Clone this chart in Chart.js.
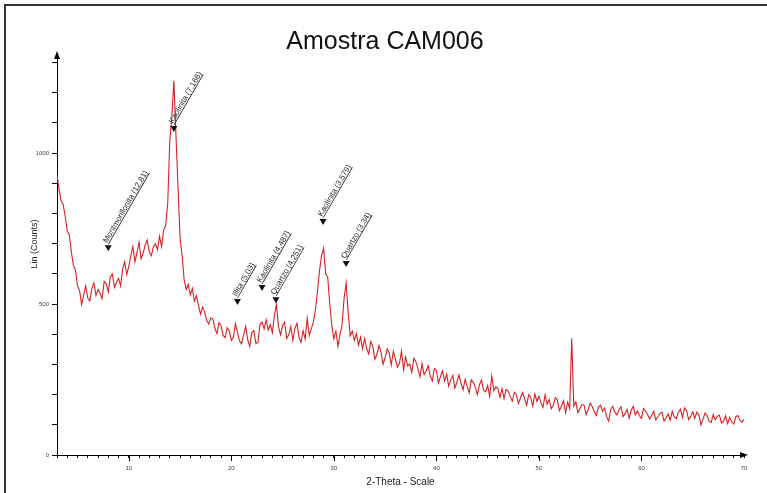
<!DOCTYPE html>
<html>
<head>
<meta charset="utf-8">
<script src="https://cdn.jsdelivr.net/npm/chart.js@4.4.1/dist/chart.umd.min.js"></script>
<style>
  html, body { margin: 0; padding: 0; background: #fff; }
  canvas { display: block; }
</style>
</head>
<body>
<canvas id="xrd-Chart" width="767" height="493"></canvas>
<script>
// scan: 2-theta from 3 to 70 deg, step 0.2 deg
const startAngle = 3;
const angleStep = 0.2;

// Lin (Counts), one row = 2 degrees
const counts = [
  928, 880, 842, 830, 790, 742, 730, 672, 628, 612,
  560, 545, 498, 530, 560, 520, 510, 552, 570, 528,
  548, 535, 518, 575, 568, 540, 590, 600, 555, 572,
  585, 560, 615, 640, 598, 625, 660, 690, 640, 670,
  705, 650, 668, 695, 712, 672, 660, 690, 700, 680,
  725, 690, 745, 760, 834, 1040, 1120, 1240, 1060, 890,
  720, 660, 580, 548, 565, 530, 552, 510, 528, 495,
  466, 490, 474, 445, 434, 454, 451, 419, 402, 438,
  428, 396, 389, 422, 412, 380, 390, 435, 405, 378,
  368, 399, 426, 381, 360, 406, 412, 369, 374, 432,
  440, 418, 448, 414, 432, 405, 462, 500, 425, 398,
  428, 440, 386, 397, 425, 380, 420, 436, 390, 373,
  412, 384, 452, 396, 418, 440, 480, 540, 610, 660,
  685, 600, 590, 500, 430, 385, 410, 360, 400, 430,
  520, 570, 470, 395, 410, 380, 402, 364, 390, 352,
  386, 352, 335, 376, 360, 317, 333, 363, 341, 301,
  322, 351, 338, 298, 343, 318, 291, 304, 344, 282,
  324, 295, 301, 274, 320, 309, 286, 259, 302, 266,
  278, 296, 262, 245, 286, 280, 239, 260, 279, 245,
  268, 228, 249, 264, 222, 241, 265, 237, 216, 250,
  228, 206, 249, 241, 224, 200, 233, 248, 215, 209,
  230, 195, 262, 213, 226, 219, 191, 220, 187, 217,
  212, 195, 178, 208, 199, 171, 189, 207, 186, 165,
  200, 190, 162, 202, 178, 194, 172, 158, 199, 168,
  184, 153, 165, 190, 182, 147, 162, 180, 140, 175,
  154, 387, 162, 176, 140, 153, 167, 165, 134, 149,
  172, 160, 143, 131, 158, 165, 145, 156, 127, 112,
  151, 161, 142, 133, 149, 160, 127, 137, 151, 122,
  148, 161, 133, 146, 130, 121, 154, 145, 134, 119,
  132, 145, 116, 126, 138, 142, 112, 123, 137, 115,
  145, 126, 120, 142, 152, 124, 156, 147, 117, 127,
  143, 121, 142, 133, 99, 118, 139, 131, 112, 108,
  134, 117, 128, 132, 106, 112, 130, 104, 124, 110,
  102, 127, 131, 115, 109, 118
];

// identified phases
const peakNames = [
  "Montmorillonita (12,81)",
  "Kaolinita (7,166)",
  "Illita (5,03)",
  "Kaolinita (4,487)",
  "Quartzo (4,251)",
  "Kaolinita (3,579)",
  "Quartzo (3,34)"
];
const peakAngles = [8.0, 14.4, 20.6, 23.0, 24.35, 28.95, 31.2];
const arrowCounts = [675, 1070, 497, 543, 503, 762, 623];

const xTicks = [3, 10, 20, 30, 40, 50, 60, 70];
const yTicks = [0, 500, 1000];

const FONT = "'Liberation Sans', Arial, sans-serif";
Chart.defaults.font.family = FONT;

const points = counts.map((c, i) => ({ x: +(startAngle + i * angleStep).toFixed(1), y: c }));

const framePlugin = {
  id: 'frame',
  beforeDraw(chart) {
    const ctx = chart.ctx;
    ctx.save();
    ctx.fillStyle = '#fff';
    ctx.fillRect(0, 0, chart.width, chart.height);
    ctx.strokeStyle = '#333';
    ctx.lineWidth = 2;
    ctx.beginPath();
    ctx.moveTo(5, chart.height);
    ctx.lineTo(5, 5);
    ctx.lineTo(chart.width, 5);
    ctx.stroke();
    // title
    ctx.fillStyle = '#111';
    ctx.font = '25px ' + FONT;
    ctx.textAlign = 'center';
    ctx.textBaseline = 'middle';
    ctx.fillText('Amostra CAM006', 385, 42);
    // y axis title
    ctx.save();
    ctx.translate(35, 244);
    ctx.rotate(-Math.PI / 2);
    ctx.fillStyle = '#222';
    ctx.font = '9px ' + FONT;
    ctx.fillText('Lin (Counts)', 0, 0);
    ctx.restore();
    ctx.restore();
  },
  afterDraw(chart) {
    const { ctx, chartArea: a, scales: { x } } = chart;
    ctx.save();
    ctx.fillStyle = '#000';
    // arrow heads of the axes
    ctx.beginPath();
    ctx.moveTo(a.left, a.top - 4);
    ctx.lineTo(a.left - 3, a.top + 4);
    ctx.lineTo(a.left + 3, a.top + 4);
    ctx.closePath();
    ctx.fill();
    ctx.beginPath();
    ctx.moveTo(a.right + 4, a.bottom);
    ctx.lineTo(a.right - 4, a.bottom - 3);
    ctx.lineTo(a.right - 4, a.bottom + 3);
    ctx.closePath();
    ctx.fill();
    // longer marks on labelled x ticks
    ctx.strokeStyle = '#000';
    ctx.lineWidth = 1;
    xTicks.slice(1, -1).forEach(v => {
      const px = Math.round(x.getPixelForValue(v)) + 0.5;
      ctx.beginPath();
      ctx.moveTo(px, a.bottom);
      ctx.lineTo(px, a.bottom + 6);
      ctx.stroke();
    });
    ctx.restore();
  }
};

const peakPlugin = {
  id: 'peakLabels',
  afterDatasetsDraw(chart) {
    const { ctx, scales: { x, y } } = chart;
    ctx.save();
    peakNames.forEach((name, i) => {
      const px = x.getPixelForValue(peakAngles[i]);
      const py = y.getPixelForValue(arrowCounts[i]);
      ctx.fillStyle = '#111';
      ctx.beginPath();
      ctx.moveTo(px, py);
      ctx.lineTo(px - 3.5, py - 6);
      ctx.lineTo(px + 3.5, py - 6);
      ctx.closePath();
      ctx.fill();
      ctx.save();
      ctx.translate(px - 1, py - 8);
      ctx.rotate(-Math.PI / 3);
      ctx.font = '8px ' + FONT;
      ctx.fillStyle = '#2a2a2a';
      ctx.textBaseline = 'alphabetic';
      ctx.fillText(name, 0, 0);
      ctx.fillRect(0, 1, ctx.measureText(name).width, 0.8);
      ctx.restore();
    });
    ctx.restore();
  }
};

const config = {
  type: 'line',
  data: {
    datasets: [{
      data: points,
      borderColor: 'rgb(214, 34, 34)',
      borderWidth: 1.1,
      pointRadius: 0,
      tension: 0
    }]
  },
  options: {
    responsive: false,
    devicePixelRatio: 1,
    animation: false,
    layout: { padding: { left: 0, right: 23, top: 55, bottom: 0 } },
    plugins: {
      legend: { display: false },
      tooltip: { enabled: false },
      title: { display: false }
    },
    scales: {
      x: {
        type: 'linear',
        min: 3,
        max: 70,
        afterBuildTicks: s => {
          const t = [];
          for (let v = 3; v <= 70; v++) t.push({ value: v });
          s.ticks = t;
        },
        afterFit: s => { s.height = 38; },
        ticks: {
          autoSkip: false,
          maxRotation: 0,
          padding: 7,
          color: '#444',
          font: { size: 6 },
          callback: v => (xTicks.includes(v) && v !== 3) ? String(v) : ''
        },
        grid: { drawOnChartArea: false, drawTicks: true, tickLength: 3, tickColor: '#000' },
        border: { display: true, color: '#000', width: 1 },
        title: { display: true, text: '2-Theta - Scale', color: '#222', font: { size: 10 }, padding: 5 }
      },
      y: {
        min: 0,
        max: 1325,
        afterBuildTicks: s => {
          const t = [];
          for (let v = 0; v <= 1300; v += 100) t.push({ value: v });
          s.ticks = t;
        },
        afterFit: s => { s.width = 57; },
        ticks: {
          padding: 3,
          color: '#444',
          font: { size: 6 },
          callback: v => yTicks.includes(v) ? String(v) : ''
        },
        grid: { drawOnChartArea: false, drawTicks: true, tickLength: 5, tickColor: '#000' },
        border: { display: true, color: '#000', width: 1 }
      }
    }
  },
  plugins: [framePlugin, peakPlugin]
};

const myChart = new Chart(document.getElementById('xrd-Chart'), config);
</script>
</body>
</html>
